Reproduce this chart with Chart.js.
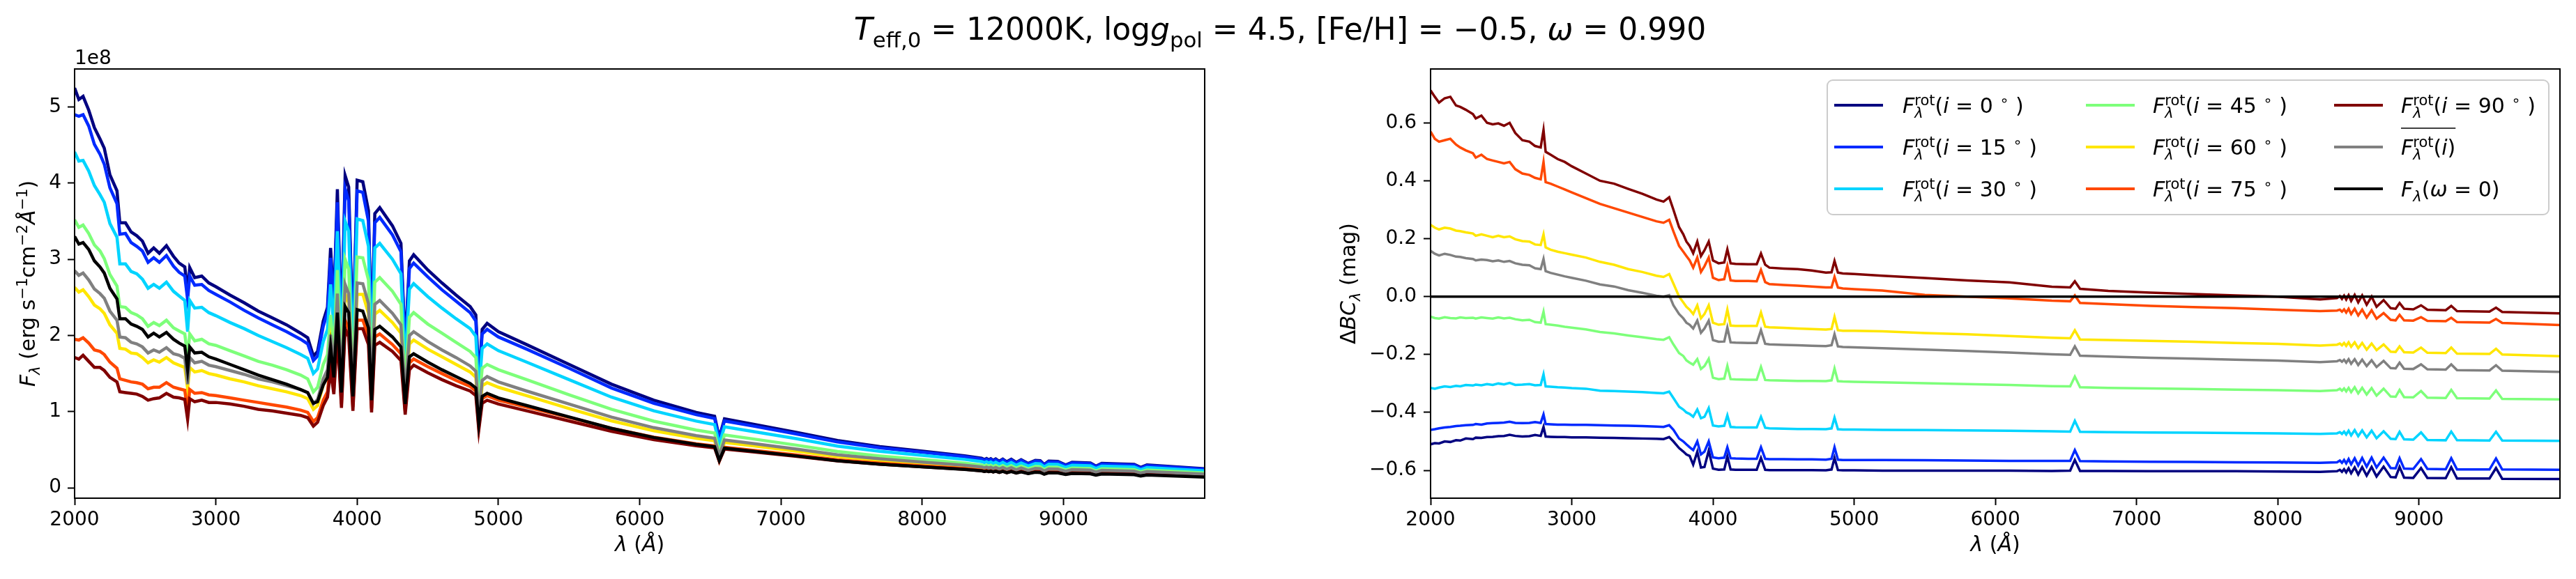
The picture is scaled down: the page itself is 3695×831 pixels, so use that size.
<!DOCTYPE html>
<html>
<head>
<meta charset="utf-8">
<script src="https://cdn.jsdelivr.net/npm/chart.js@4.4.1/dist/chart.umd.min.js"></script>
<style>
  html, body { margin: 0; padding: 0; background: #fff; }
  body { width: 3695px; height: 831px; position: relative; overflow: hidden; }
  .panel { position: absolute; top: 0; height: 831px; }
  #left { left: 0; width: 1800px; }
  #right { left: 1850px; width: 1845px; }
  #title { position: absolute; left: 0; top: 0; }
</style>
</head>
<body>
<div class="panel" id="left"><canvas id="fluxChart"></canvas></div>
<div class="panel" id="right"><canvas id="bcChart"></canvas></div>
<canvas id="title" width="3695" height="90"></canvas>
<script>
// wavelength grid (Angstrom), shared by both panels
const wavelengths = [
  2000, 2030, 2060, 2100, 2140, 2180, 2210, 2250, 2300, 2320,
  2360, 2400, 2440, 2480, 2520, 2560, 2600, 2650, 2700, 2740,
  2780, 2800, 2815, 2850, 2900, 2950, 3000, 3100, 3200, 3300,
  3400, 3500, 3600, 3650, 3690, 3720, 3760, 3790, 3812, 3835,
  3860, 3889, 3915, 3940, 3970, 4000, 4040, 4080, 4102, 4125,
  4160, 4250, 4310, 4340, 4370, 4400, 4500, 4600, 4700, 4800,
  4840, 4861, 4885, 4920, 5000, 5200, 5500, 5800, 6100, 6400,
  6530, 6563, 6600, 6800, 7100, 7400, 7700, 8000, 8300, 8420,
  8440, 8455, 8470, 8485, 8502, 8520, 8545, 8570, 8598, 8630,
  8665, 8700, 8750, 8800, 8835, 8863, 8895, 8960, 9015, 9060,
  9190, 9229, 9270, 9500, 9546, 9590, 9999
];

// left panel: F_lambda in units of 1e8 erg s^-1 cm^-2 A^-1
const fluxI0 = [
  5.25, 5.10, 5.14, 4.96, 4.73, 4.58, 4.46, 4.11, 3.90, 3.48,
  3.48, 3.36, 3.31, 3.24, 3.08, 3.15, 3.08, 3.18, 3.04, 2.95,
  2.90, 2.58, 2.89, 2.76, 2.78, 2.69, 2.64, 2.53, 2.43, 2.32,
  2.23, 2.14, 2.03, 1.97, 1.73, 1.79, 2.19, 2.37, 3.15, 2.41,
  3.92, 2.05, 4.10, 3.95, 1.96, 4.04, 4.02, 3.64, 1.91, 3.60,
  3.68, 3.44, 3.21, 1.84, 2.98, 3.06, 2.86, 2.69, 2.53, 2.38,
  2.27, 1.42, 2.08, 2.16, 2.05, 1.88, 1.62, 1.36, 1.15, 0.99,
  0.94, 0.66, 0.905, 0.836, 0.73, 0.62, 0.54, 0.48, 0.42, 0.388,
  0.371, 0.384, 0.367, 0.381, 0.359, 0.379, 0.348, 0.377, 0.341, 0.375,
  0.332, 0.369, 0.319, 0.360, 0.355, 0.306, 0.349, 0.345, 0.300, 0.335,
  0.326, 0.284, 0.321, 0.307, 0.267, 0.300, 0.250
];
const fluxI15 = [
  4.90, 4.88, 4.90, 4.75, 4.51, 4.38, 4.25, 3.94, 3.73, 3.33,
  3.34, 3.22, 3.17, 3.11, 2.96, 3.02, 2.96, 3.05, 2.91, 2.83,
  2.78, 2.47, 2.78, 2.66, 2.67, 2.59, 2.54, 2.44, 2.33, 2.23,
  2.14, 2.05, 1.95, 1.89, 1.67, 1.73, 2.12, 2.30, 3.02, 2.34,
  3.75, 1.98, 3.93, 3.77, 1.90, 3.90, 3.88, 3.50, 1.86, 3.48,
  3.55, 3.32, 3.10, 1.78, 2.88, 2.95, 2.77, 2.60, 2.45, 2.30,
  2.19, 1.37, 2.02, 2.08, 1.98, 1.82, 1.57, 1.31, 1.11, 0.96,
  0.91, 0.64, 0.877, 0.811, 0.710, 0.601, 0.525, 0.466, 0.407, 0.376,
  0.360, 0.373, 0.356, 0.371, 0.349, 0.368, 0.338, 0.366, 0.331, 0.364,
  0.322, 0.358, 0.310, 0.350, 0.345, 0.298, 0.339, 0.336, 0.292, 0.325,
  0.317, 0.276, 0.312, 0.298, 0.259, 0.291, 0.243
];
const fluxI30 = [
  4.41, 4.29, 4.30, 4.16, 3.97, 3.85, 3.75, 3.47, 3.29, 2.94,
  2.94, 2.84, 2.81, 2.74, 2.62, 2.67, 2.62, 2.70, 2.58, 2.52,
  2.46, 2.05, 2.46, 2.36, 2.37, 2.30, 2.26, 2.17, 2.09, 2.00,
  1.92, 1.84, 1.75, 1.70, 1.50, 1.56, 1.92, 2.08, 2.67, 2.11,
  3.37, 1.79, 3.50, 3.37, 1.71, 3.53, 3.51, 3.17, 1.68, 3.15,
  3.21, 3.00, 2.81, 1.61, 2.61, 2.68, 2.51, 2.36, 2.22, 2.09,
  1.99, 1.25, 1.83, 1.89, 1.80, 1.65, 1.42, 1.19, 1.01, 0.875,
  0.830, 0.57, 0.800, 0.739, 0.647, 0.547, 0.479, 0.425, 0.372, 0.343,
  0.330, 0.341, 0.326, 0.338, 0.319, 0.336, 0.309, 0.334, 0.303, 0.332,
  0.296, 0.326, 0.286, 0.319, 0.315, 0.274, 0.309, 0.306, 0.268, 0.296,
  0.289, 0.254, 0.284, 0.272, 0.238, 0.265, 0.221
];
const fluxI45 = [
  3.52, 3.42, 3.45, 3.34, 3.19, 3.11, 3.01, 2.80, 2.65, 2.38,
  2.37, 2.30, 2.27, 2.22, 2.12, 2.17, 2.13, 2.20, 2.10, 2.06,
  2.02, 1.72, 2.02, 1.93, 1.95, 1.89, 1.87, 1.80, 1.73, 1.66,
  1.61, 1.55, 1.48, 1.43, 1.26, 1.32, 1.62, 1.75, 2.27, 1.79,
  2.86, 1.53, 3.00, 2.87, 1.46, 3.03, 3.02, 2.73, 1.43, 2.70,
  2.76, 2.58, 2.41, 1.38, 2.24, 2.30, 2.15, 2.03, 1.91, 1.79,
  1.71, 1.07, 1.57, 1.62, 1.55, 1.42, 1.22, 1.03, 0.874, 0.758,
  0.718, 0.46, 0.694, 0.642, 0.562, 0.476, 0.417, 0.370, 0.324, 0.299,
  0.287, 0.297, 0.284, 0.295, 0.278, 0.293, 0.269, 0.291, 0.265, 0.289,
  0.258, 0.285, 0.249, 0.279, 0.275, 0.240, 0.270, 0.267, 0.235, 0.259,
  0.253, 0.222, 0.249, 0.238, 0.209, 0.233, 0.194
];
const fluxI60 = [
  2.63, 2.57, 2.60, 2.51, 2.40, 2.35, 2.29, 2.14, 2.03, 1.83,
  1.82, 1.77, 1.76, 1.71, 1.64, 1.68, 1.65, 1.71, 1.64, 1.61,
  1.58, 1.30, 1.58, 1.52, 1.54, 1.50, 1.48, 1.43, 1.39, 1.34,
  1.30, 1.26, 1.21, 1.17, 1.03, 1.08, 1.35, 1.48, 1.91, 1.51,
  2.43, 1.29, 2.55, 2.43, 1.23, 2.54, 2.54, 2.29, 1.20, 2.28,
  2.33, 2.17, 2.03, 1.16, 1.89, 1.94, 1.82, 1.72, 1.62, 1.52,
  1.45, 0.907, 1.34, 1.38, 1.32, 1.21, 1.04, 0.879, 0.748, 0.650,
  0.617, 0.40, 0.596, 0.551, 0.483, 0.410, 0.359, 0.320, 0.281, 0.259,
  0.248, 0.257, 0.246, 0.255, 0.241, 0.253, 0.234, 0.252, 0.229, 0.251,
  0.224, 0.247, 0.217, 0.242, 0.238, 0.209, 0.234, 0.232, 0.205, 0.225,
  0.219, 0.194, 0.216, 0.206, 0.183, 0.202, 0.169
];
const fluxI75 = [
  1.95, 1.94, 1.97, 1.90, 1.81, 1.79, 1.75, 1.65, 1.57, 1.43,
  1.41, 1.39, 1.38, 1.36, 1.30, 1.32, 1.32, 1.38, 1.32, 1.30,
  1.28, 1.00, 1.29, 1.24, 1.25, 1.22, 1.21, 1.18, 1.15, 1.12,
  1.09, 1.06, 1.02, 0.99, 0.87, 0.92, 1.15, 1.26, 1.63, 1.29,
  2.10, 1.10, 2.20, 2.09, 1.06, 2.20, 2.20, 1.99, 1.04, 1.98,
  2.02, 1.88, 1.76, 1.01, 1.64, 1.69, 1.59, 1.50, 1.41, 1.33,
  1.27, 0.80, 1.17, 1.21, 1.15, 1.06, 0.925, 0.780, 0.664, 0.577,
  0.548, 0.35, 0.531, 0.492, 0.433, 0.367, 0.322, 0.287, 0.251, 0.232,
  0.223, 0.231, 0.221, 0.229, 0.216, 0.228, 0.210, 0.227, 0.206, 0.227,
  0.201, 0.223, 0.196, 0.218, 0.216, 0.189, 0.211, 0.209, 0.186, 0.203,
  0.198, 0.177, 0.195, 0.187, 0.166, 0.183, 0.153
];
const fluxI90 = [
  1.71, 1.69, 1.74, 1.66, 1.58, 1.58, 1.54, 1.45, 1.39, 1.26,
  1.25, 1.24, 1.23, 1.20, 1.15, 1.17, 1.18, 1.24, 1.19, 1.18,
  1.16, 0.90, 1.17, 1.13, 1.15, 1.12, 1.12, 1.10, 1.07, 1.03,
  1.01, 0.98, 0.95, 0.92, 0.81, 0.86, 1.08, 1.19, 1.55, 1.23,
  2.00, 1.05, 2.09, 1.98, 1.01, 2.09, 2.09, 1.88, 0.99, 1.87,
  1.91, 1.79, 1.67, 0.96, 1.55, 1.61, 1.51, 1.42, 1.34, 1.27,
  1.21, 0.76, 1.11, 1.15, 1.10, 1.01, 0.877, 0.741, 0.631, 0.552,
  0.524, 0.35, 0.507, 0.471, 0.415, 0.352, 0.309, 0.275, 0.242, 0.223,
  0.214, 0.222, 0.211, 0.220, 0.207, 0.219, 0.201, 0.218, 0.197, 0.218,
  0.193, 0.215, 0.188, 0.211, 0.208, 0.182, 0.204, 0.202, 0.179, 0.196,
  0.191, 0.170, 0.188, 0.180, 0.161, 0.176, 0.148
];
const fluxMean = [
  2.85, 2.79, 2.82, 2.73, 2.61, 2.55, 2.49, 2.32, 2.20, 1.98,
  1.97, 1.91, 1.89, 1.85, 1.77, 1.81, 1.78, 1.84, 1.76, 1.74,
  1.70, 1.36, 1.71, 1.64, 1.66, 1.61, 1.59, 1.54, 1.49, 1.43,
  1.39, 1.34, 1.29, 1.25, 1.10, 1.16, 1.43, 1.55, 2.01, 1.58,
  2.55, 1.35, 2.67, 2.55, 1.29, 2.69, 2.68, 2.42, 1.27, 2.41,
  2.46, 2.29, 2.14, 1.22, 2.00, 2.05, 1.92, 1.81, 1.71, 1.60,
  1.53, 0.958, 1.41, 1.46, 1.39, 1.27, 1.10, 0.928, 0.789, 0.685,
  0.650, 0.42, 0.628, 0.581, 0.510, 0.432, 0.379, 0.337, 0.295, 0.273,
  0.262, 0.271, 0.259, 0.269, 0.254, 0.267, 0.246, 0.266, 0.242, 0.264,
  0.236, 0.260, 0.228, 0.255, 0.251, 0.220, 0.247, 0.244, 0.216, 0.237,
  0.231, 0.205, 0.228, 0.218, 0.193, 0.213, 0.178
];
const fluxNoRot = [
  3.30, 3.20, 3.22, 3.13, 2.98, 2.90, 2.82, 2.62, 2.48, 2.22,
  2.22, 2.15, 2.12, 2.08, 1.98, 2.03, 1.98, 2.04, 1.95, 1.90,
  1.86, 1.55, 1.85, 1.77, 1.78, 1.72, 1.69, 1.62, 1.55, 1.48,
  1.42, 1.36, 1.29, 1.25, 1.11, 1.13, 1.35, 1.45, 1.85, 1.45,
  2.30, 1.25, 2.38, 2.30, 1.20, 2.34, 2.32, 2.10, 1.15, 2.08,
  2.12, 1.98, 1.85, 1.10, 1.72, 1.76, 1.65, 1.55, 1.46, 1.37,
  1.31, 0.85, 1.20, 1.24, 1.18, 1.08, 0.93, 0.78, 0.66, 0.57,
  0.54, 0.36, 0.52, 0.48, 0.42, 0.355, 0.31, 0.275, 0.24, 0.222,
  0.214, 0.220, 0.212, 0.218, 0.208, 0.216, 0.202, 0.214, 0.198, 0.212,
  0.193, 0.208, 0.186, 0.203, 0.200, 0.178, 0.196, 0.194, 0.174, 0.188,
  0.183, 0.165, 0.180, 0.172, 0.155, 0.168, 0.140
];

// right panel: Delta BC_lambda (mag)
const dbcI0 = [
  -0.510, -0.506, -0.507, -0.500, -0.502, -0.496, -0.497, -0.490, -0.492, -0.487,
  -0.488, -0.485, -0.484, -0.482, -0.481, -0.477, -0.481, -0.483, -0.482, -0.478,
  -0.481, -0.450, -0.483, -0.484, -0.485, -0.485, -0.486, -0.486, -0.487, -0.488,
  -0.489, -0.490, -0.491, -0.492, -0.485, -0.500, -0.523, -0.535, -0.545, -0.550,
  -0.580, -0.536, -0.590, -0.588, -0.532, -0.594, -0.598, -0.597, -0.552, -0.597,
  -0.598, -0.598, -0.598, -0.557, -0.598, -0.599, -0.599, -0.599, -0.599, -0.600,
  -0.597, -0.557, -0.599, -0.600, -0.600, -0.601, -0.601, -0.601, -0.601, -0.602,
  -0.601, -0.564, -0.602, -0.602, -0.603, -0.603, -0.603, -0.604, -0.605, -0.603,
  -0.598, -0.605, -0.596, -0.607, -0.593, -0.610, -0.590, -0.614, -0.589, -0.618,
  -0.588, -0.621, -0.587, -0.623, -0.624, -0.588, -0.625, -0.626, -0.592, -0.626,
  -0.627, -0.589, -0.628, -0.628, -0.592, -0.629, -0.630
];
const dbcI15 = [
  -0.460, -0.458, -0.455, -0.452, -0.450, -0.447, -0.446, -0.444, -0.443, -0.440,
  -0.442, -0.438, -0.437, -0.436, -0.435, -0.432, -0.436, -0.437, -0.436, -0.433,
  -0.436, -0.407, -0.440, -0.441, -0.442, -0.442, -0.443, -0.443, -0.444, -0.445,
  -0.446, -0.447, -0.449, -0.450, -0.444, -0.460, -0.490, -0.500, -0.510, -0.520,
  -0.530, -0.500, -0.545, -0.535, -0.500, -0.555, -0.558, -0.556, -0.520, -0.558,
  -0.559, -0.560, -0.560, -0.520, -0.560, -0.561, -0.561, -0.562, -0.562, -0.563,
  -0.560, -0.520, -0.563, -0.564, -0.564, -0.564, -0.565, -0.566, -0.567, -0.567,
  -0.567, -0.530, -0.568, -0.569, -0.570, -0.571, -0.572, -0.573, -0.574, -0.572,
  -0.566, -0.574, -0.564, -0.576, -0.561, -0.579, -0.558, -0.583, -0.557, -0.587,
  -0.556, -0.590, -0.556, -0.592, -0.593, -0.558, -0.594, -0.595, -0.561, -0.595,
  -0.596, -0.558, -0.597, -0.597, -0.559, -0.597, -0.598
];
const dbcI30 = [
  -0.315, -0.318, -0.314, -0.310, -0.312, -0.308, -0.310, -0.305, -0.307, -0.304,
  -0.306, -0.302, -0.305, -0.300, -0.303, -0.298, -0.305, -0.304, -0.302, -0.306,
  -0.305, -0.268, -0.310, -0.311, -0.313, -0.314, -0.316, -0.318, -0.325, -0.326,
  -0.328, -0.330, -0.333, -0.334, -0.328, -0.350, -0.380, -0.390, -0.400, -0.405,
  -0.415, -0.390, -0.420, -0.415, -0.385, -0.445, -0.448, -0.446, -0.410, -0.450,
  -0.451, -0.452, -0.452, -0.415, -0.453, -0.455, -0.456, -0.457, -0.457, -0.458,
  -0.455, -0.418, -0.458, -0.459, -0.459, -0.460, -0.461, -0.462, -0.463, -0.465,
  -0.466, -0.429, -0.467, -0.468, -0.469, -0.470, -0.471, -0.472, -0.474, -0.472,
  -0.468, -0.474, -0.466, -0.476, -0.463, -0.479, -0.461, -0.482, -0.462, -0.486,
  -0.463, -0.489, -0.465, -0.491, -0.492, -0.467, -0.493, -0.494, -0.469, -0.495,
  -0.496, -0.466, -0.496, -0.497, -0.467, -0.497, -0.498
];
const dbcI45 = [
  -0.069, -0.074, -0.076, -0.071, -0.074, -0.075, -0.072, -0.074, -0.073, -0.076,
  -0.072, -0.074, -0.076, -0.072, -0.075, -0.073, -0.078, -0.082, -0.080, -0.088,
  -0.090, -0.052, -0.095, -0.097, -0.100, -0.104, -0.107, -0.113, -0.122, -0.127,
  -0.134, -0.140, -0.147, -0.149, -0.140, -0.165, -0.195, -0.205, -0.220, -0.228,
  -0.235, -0.216, -0.250, -0.240, -0.215, -0.280, -0.285, -0.283, -0.239, -0.285,
  -0.286, -0.287, -0.287, -0.243, -0.288, -0.289, -0.290, -0.291, -0.291, -0.292,
  -0.289, -0.248, -0.292, -0.293, -0.294, -0.296, -0.299, -0.302, -0.305, -0.309,
  -0.310, -0.276, -0.313, -0.315, -0.317, -0.319, -0.321, -0.323, -0.326, -0.323,
  -0.318, -0.325, -0.317, -0.327, -0.315, -0.330, -0.313, -0.334, -0.315, -0.338,
  -0.316, -0.342, -0.318, -0.345, -0.346, -0.322, -0.347, -0.348, -0.326, -0.349,
  -0.350, -0.322, -0.351, -0.352, -0.324, -0.353, -0.355
];
const dbcI60 = [
  0.248, 0.238, 0.232, 0.238, 0.235, 0.228, 0.226, 0.222, 0.218, 0.210,
  0.215, 0.210, 0.205, 0.210, 0.205, 0.208, 0.198, 0.192, 0.190, 0.180,
  0.178, 0.215, 0.170, 0.162, 0.155, 0.150, 0.145, 0.135, 0.120, 0.110,
  0.095, 0.085, 0.072, 0.068, 0.078, 0.045, 0.000, -0.020, -0.035, -0.045,
  -0.060, -0.030, -0.075, -0.060, -0.030, -0.090, -0.097, -0.095, -0.045, -0.100,
  -0.101, -0.101, -0.101, -0.055, -0.104, -0.106, -0.108, -0.110, -0.112, -0.114,
  -0.112, -0.070, -0.116, -0.118, -0.118, -0.120, -0.126, -0.130, -0.136, -0.142,
  -0.144, -0.116, -0.148, -0.150, -0.153, -0.156, -0.160, -0.163, -0.169, -0.166,
  -0.162, -0.168, -0.160, -0.170, -0.158, -0.173, -0.158, -0.178, -0.160, -0.183,
  -0.162, -0.185, -0.165, -0.190, -0.191, -0.172, -0.192, -0.193, -0.176, -0.194,
  -0.195, -0.176, -0.197, -0.198, -0.180, -0.200, -0.206
];
const dbcI75 = [
  0.570, 0.545, 0.535, 0.540, 0.545, 0.525, 0.515, 0.505, 0.495, 0.480,
  0.490, 0.475, 0.470, 0.465, 0.460, 0.465, 0.440, 0.425, 0.420, 0.410,
  0.405, 0.465, 0.395, 0.390, 0.380, 0.370, 0.360, 0.340, 0.320, 0.305,
  0.290, 0.275, 0.260, 0.255, 0.265, 0.225, 0.175, 0.155, 0.140, 0.125,
  0.100, 0.135, 0.085, 0.105, 0.135, 0.065, 0.057, 0.060, 0.106, 0.056,
  0.054, 0.054, 0.053, 0.092, 0.050, 0.043, 0.040, 0.038, 0.035, 0.032,
  0.032, 0.068, 0.031, 0.028, 0.026, 0.021, 0.006, 0.000, -0.006, -0.014,
  -0.016, 0.004, -0.022, -0.026, -0.032, -0.036, -0.040, -0.045, -0.050, -0.048,
  -0.045, -0.052, -0.044, -0.055, -0.042, -0.060, -0.042, -0.065, -0.045, -0.072,
  -0.047, -0.076, -0.057, -0.080, -0.082, -0.063, -0.082, -0.083, -0.071, -0.084,
  -0.085, -0.073, -0.088, -0.090, -0.077, -0.091, -0.098
];
const dbcI90 = [
  0.712, 0.690, 0.670, 0.685, 0.690, 0.660, 0.655, 0.645, 0.630, 0.615,
  0.625, 0.600, 0.595, 0.598, 0.590, 0.600, 0.565, 0.540, 0.535, 0.520,
  0.515, 0.575, 0.500, 0.490, 0.475, 0.465, 0.450, 0.425, 0.400, 0.390,
  0.372, 0.355, 0.335, 0.328, 0.343, 0.300, 0.240, 0.215, 0.190, 0.175,
  0.150, 0.190, 0.140, 0.160, 0.190, 0.125, 0.115, 0.118, 0.163, 0.115,
  0.113, 0.112, 0.112, 0.149, 0.110, 0.100, 0.097, 0.095, 0.090, 0.083,
  0.084, 0.123, 0.083, 0.080, 0.078, 0.072, 0.064, 0.056, 0.049, 0.034,
  0.032, 0.053, 0.027, 0.020, 0.014, 0.009, 0.004, 0.000, -0.010, -0.005,
  0.002, -0.008, 0.003, -0.010, 0.005, -0.015, 0.006, -0.020, 0.004, -0.028,
  0.000, -0.035, -0.012, -0.040, -0.042, -0.022, -0.042, -0.044, -0.030, -0.045,
  -0.047, -0.032, -0.050, -0.052, -0.038, -0.053, -0.058
];
const dbcMean = [
  0.158, 0.148, 0.142, 0.148, 0.144, 0.138, 0.137, 0.133, 0.130, 0.125,
  0.128, 0.126, 0.122, 0.125, 0.120, 0.123, 0.115, 0.110, 0.108, 0.098,
  0.095, 0.130, 0.088, 0.082, 0.076, 0.070, 0.065, 0.055, 0.042, 0.035,
  0.022, 0.013, 0.003, 0.000, 0.005, -0.030, -0.060, -0.075, -0.090, -0.097,
  -0.110, -0.083, -0.125, -0.110, -0.083, -0.150, -0.156, -0.155, -0.107, -0.158,
  -0.159, -0.160, -0.160, -0.116, -0.163, -0.165, -0.167, -0.168, -0.170, -0.171,
  -0.168, -0.130, -0.172, -0.174, -0.175, -0.178, -0.183, -0.188, -0.193, -0.199,
  -0.201, -0.172, -0.204, -0.207, -0.211, -0.214, -0.218, -0.221, -0.226, -0.223,
  -0.219, -0.225, -0.218, -0.228, -0.216, -0.232, -0.216, -0.236, -0.218, -0.240,
  -0.220, -0.243, -0.222, -0.247, -0.248, -0.228, -0.249, -0.250, -0.234, -0.251,
  -0.252, -0.234, -0.254, -0.255, -0.237, -0.256, -0.260
];
// the non-rotating reference against itself: a flat zero line
const dbcNoRotWl = [2000, 9999];
const dbcNoRot = [0, 0];

const xTickValues = [2000, 3000, 4000, 5000, 6000, 7000, 8000, 9000];
const fluxTickValues = [0, 1, 2, 3, 4, 5];
const dbcTickValues = [-0.6, -0.4, -0.2, 0.0, 0.2, 0.4, 0.6];

const fluxSeries = [fluxI0, fluxI15, fluxI30, fluxI45, fluxI60, fluxI75, fluxI90, fluxMean, fluxNoRot];
const dbcSeries = [dbcI0, dbcI15, dbcI30, dbcI45, dbcI60, dbcI75, dbcI90, dbcMean];

// jet colours for the inclinations, then mean (grey) and non-rotating (black)
const lineColors = ['#000080', '#002aff', '#00d4ff', '#7dff7a', '#ffe600', '#ff4800', '#800000', '#808080', '#000000'];

[...fluxSeries, ...dbcSeries].forEach((arr, k) => {
  if (arr.length !== wavelengths.length) throw new Error('series ' + k + ' has ' + arr.length + ' values, expected ' + wavelengths.length);
});

const FONT = '"DejaVu Sans", sans-serif';
Chart.defaults.font.family = FONT;
Chart.defaults.color = '#000';

// ---- small mathtext-like text drawing ----
function fontFor(italic, size) {
  return (italic ? 'italic ' : '') + size + 'px ' + FONT;
}
function layoutRich(ctx, segs, size) {
  let x = 0;
  const items = [];
  const small = size * 0.7;
  for (const s of segs) {
    if (s.stack) {
      ctx.font = fontFor(true, small);
      const w1 = ctx.measureText(s.stack[0]).width;
      ctx.font = fontFor(false, small);
      const w2 = ctx.measureText(s.stack[1]).width;
      items.push({ t: s.stack[0], f: fontFor(true, small), x: x, dy: size * 0.24 });
      items.push({ t: s.stack[1], f: fontFor(false, small), x: x, dy: -size * 0.36 });
      x += Math.max(w1, w2);
      continue;
    }
    const t = s[0], k = s[1];
    const isSmall = k === 'sub' || k === 'isub' || k === 'sup';
    const f = fontFor(k[0] === 'i', isSmall ? small : size);
    ctx.font = f;
    const dy = (k === 'sub' || k === 'isub') ? size * 0.24 : (k === 'sup' ? -size * 0.36 : 0);
    items.push({ t: t, f: f, x: x, dy: dy });
    x += ctx.measureText(t).width;
  }
  return { items: items, width: x };
}
function drawRich(ctx, segs, x, y, size, align, rotate) {
  ctx.save();
  ctx.translate(x, y);
  if (rotate) ctx.rotate(-Math.PI / 2);
  const L = layoutRich(ctx, segs, size);
  const x0 = align === 'center' ? -L.width / 2 : 0;
  ctx.fillStyle = '#000';
  ctx.textAlign = 'left';
  ctx.textBaseline = 'alphabetic';
  for (const it of L.items) {
    ctx.font = it.f;
    ctx.fillText(it.t, x0 + it.x, it.dy);
  }
  ctx.restore();
  return L.width;
}

const lambdaLabel = [['λ', 'i'], [' (', 'r'], ['Å', 'i'], [')', 'r']];
const fluxLabel = [['F', 'i'], ['λ', 'isub'], [' (erg s', 'r'], ['−1', 'sup'], ['cm', 'r'], ['−2', 'sup'], ['Å', 'i'], ['−1', 'sup'], [')', 'r']];
const dbcLabel = [['Δ', 'r'], ['BC', 'i'], ['λ', 'isub'], [' (mag)', 'r']];
function incLabel(deg) {
  return [['F', 'i'], { stack: ['λ', 'rot'] }, ['(', 'r'], ['i', 'i'], [' = ' + deg + ' ', 'r'], ['∘', 'sup'], [' )', 'r']];
}
const legendLabels = [
  incLabel(0), incLabel(15), incLabel(30), incLabel(45), incLabel(60), incLabel(75), incLabel(90),
  [['F', 'i'], { stack: ['λ', 'rot'] }, ['(', 'r'], ['i', 'i'], [')', 'r']],
  [['F', 'i'], ['λ', 'isub'], ['(', 'r'], ['ω', 'i'], [' = 0)', 'r']]
];

const LABEL_SIZE = 30;
const LEGEND_SIZE = 30;

function frame(ctx, a) {
  ctx.save();
  ctx.strokeStyle = '#000';
  ctx.lineWidth = 2;
  ctx.strokeRect(a.left, a.top, a.right - a.left, a.bottom - a.top);
  ctx.restore();
}

const fluxDecor = {
  id: 'fluxDecor',
  afterDraw(chart) {
    const ctx = chart.ctx, a = chart.chartArea;
    frame(ctx, a);
    drawRich(ctx, fluxLabel, 50, (a.top + a.bottom) / 2, LABEL_SIZE, 'center', true);
    drawRich(ctx, lambdaLabel, (a.left + a.right) / 2, 791, LABEL_SIZE, 'center', false);
    drawRich(ctx, [['1e8', 'r']], a.left, 92, 28, 'left', false);
  }
};

const bcDecor = {
  id: 'bcDecor',
  afterDraw(chart) {
    const ctx = chart.ctx, a = chart.chartArea;
    frame(ctx, a);
    drawRich(ctx, dbcLabel, 94, (a.top + a.bottom) / 2, LABEL_SIZE, 'center', true);
    drawRich(ctx, lambdaLabel, (a.left + a.right) / 2, 791, LABEL_SIZE, 'center', false);

    // legend box
    const bx = 771, by = 115, bw = 1035, bh = 193;
    ctx.save();
    ctx.beginPath();
    ctx.roundRect(bx, by, bw, bh, 8);
    ctx.fillStyle = 'rgba(255,255,255,0.8)';
    ctx.fill();
    ctx.strokeStyle = '#cccccc';
    ctx.lineWidth = 2;
    ctx.stroke();
    const colLine = [781, 1142, 1498];
    const colText = [879, 1238, 1594];
    const rowY = [151, 211, 271];
    legendLabels.forEach((segs, k) => {
      const c = Math.floor(k / 3), r = k % 3;
      ctx.strokeStyle = lineColors[k];
      ctx.lineWidth = 4;
      ctx.beginPath();
      ctx.moveTo(colLine[c], rowY[r]);
      ctx.lineTo(colLine[c] + 70, rowY[r]);
      ctx.stroke();
      const w = drawRich(ctx, segs, colText[c], rowY[r] + 11, LEGEND_SIZE, 'left', false);
      if (k === 7) {
        ctx.strokeStyle = '#000';
        ctx.lineWidth = 1.5;
        ctx.beginPath();
        ctx.moveTo(colText[c], rowY[r] - 27);
        ctx.lineTo(colText[c] + w, rowY[r] - 27);
        ctx.stroke();
      }
    });
    ctx.restore();
  }
};

function axisOptions(yMin, yMax, yTicks, yFmt, yWidth, yPad) {
  const tickFont = { family: FONT, size: 28 };
  return {
    x: {
      type: 'linear', min: 2000, max: 9999,
      afterFit: s => { s.height = 116; },
      afterBuildTicks: s => { s.ticks = xTickValues.map(v => ({ value: v })); },
      ticks: { font: tickFont, color: '#000', padding: 5, autoSkip: false, maxRotation: 0, callback: v => String(v) },
      grid: { drawOnChartArea: false, tickLength: 10, tickWidth: 2, color: '#000' },
      border: { display: true, color: '#000', width: 2 }
    },
    y: {
      type: 'linear', min: yMin, max: yMax,
      afterFit: s => { s.width = yWidth; },
      afterBuildTicks: s => { s.ticks = yTicks.map(v => ({ value: v })); },
      ticks: { font: tickFont, color: '#000', padding: yPad, autoSkip: false, callback: yFmt },
      grid: { drawOnChartArea: false, tickLength: 10, tickWidth: 2, color: '#000' },
      border: { display: true, color: '#000', width: 2 }
    }
  };
}

function baseOptions(padRight, scales) {
  return {
    responsive: true,
    maintainAspectRatio: false,
    animation: false,
    devicePixelRatio: 1,
    layout: { padding: { top: 99, right: padRight, left: 0, bottom: 0 } },
    plugins: { legend: { display: false }, tooltip: { enabled: false }, title: { display: false } },
    elements: { point: { radius: 0 }, line: { tension: 0 } },
    scales: scales
  };
}

const n = fluxSeries.length;
const fluxDatasets = fluxSeries.map((vals, k) => ({
  data: wavelengths.map((w, i) => ({ x: w, y: vals[i] })),
  borderColor: lineColors[k],
  borderWidth: 4.5,
  fill: false,
  order: n - k
}));

const bcDatasets = dbcSeries.map((vals, k) => ({
  data: wavelengths.map((w, i) => ({ x: w, y: vals[i] })),
  borderColor: lineColors[k],
  borderWidth: 3.5,
  fill: false,
  order: n - k
}));
bcDatasets.push({
  data: dbcNoRotWl.map((w, i) => ({ x: w, y: dbcNoRot[i] })),
  borderColor: lineColors[8],
  borderWidth: 3.5,
  fill: false,
  order: 0
});

const fmtMinus = v => (v < -1e-9 ? '−' : '') + Math.abs(v).toFixed(1);

new Chart(document.getElementById('fluxChart'), {
  type: 'line',
  data: { datasets: fluxDatasets },
  options: baseOptions(72, axisOptions(-0.137, 5.5, fluxTickValues, v => String(v), 107, 9)),
  plugins: [fluxDecor]
});

new Chart(document.getElementById('bcChart'), {
  type: 'line',
  data: { datasets: bcDatasets },
  options: baseOptions(23, axisOptions(-0.696, 0.786, dbcTickValues, fmtMinus, 202, 10)),
  plugins: [bcDecor]
});

// figure title across both panels
const tctx = document.getElementById('title').getContext('2d');
drawRich(tctx, [
  ['T', 'i'], ['eff,0', 'sub'], [' = 12000K, log', 'r'], ['g', 'i'], ['pol', 'sub'],
  [' = 4.5, [Fe/H] = −0.5, ', 'r'], ['ω', 'i'], [' = 0.990', 'r']
], 1836, 57, 44, 'center', false);
</script>
</body>
</html>
